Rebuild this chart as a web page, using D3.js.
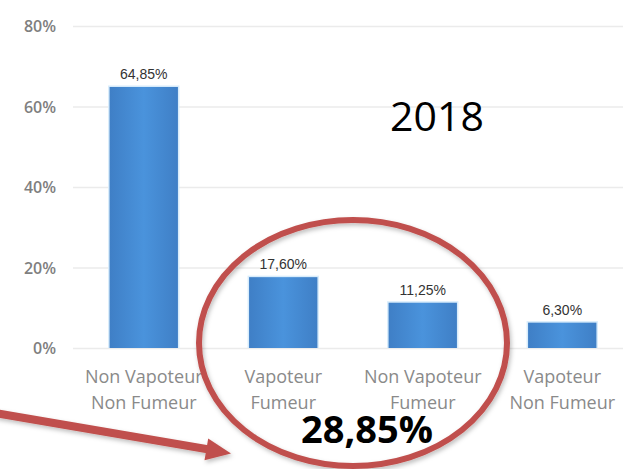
<!DOCTYPE html>
<html>
<head>
<meta charset="utf-8">
<script src="https://cdn.jsdelivr.net/npm/d3@7"></script>
<style>
    body { margin: 0; background: #ffffff; }
    svg { display: block; }
    .grid line { stroke: #ebebeb; stroke-width: 1.3; }
    .grid .domain { display: none; }
    .axis text { fill: #7f7f7f; font-family: "Open Sans", sans-serif; font-size: 16px; font-weight: 600; }
    .axis .domain, .axis line { display: none; }
    .valueLabel { fill: #333333; font-family: "Liberation Sans", Arial, sans-serif; font-size: 14px; text-anchor: middle; }
    .catLabel { fill: #8a8a8a; font-family: "Open Sans", sans-serif; font-size: 18px; text-anchor: middle; }
</style>
</head>
<body>
<script>
//wrap everything in an immediately invoked function
(function () {

    //chart data
    var categories = ["Non Vapoteur Non Fumeur", "Vapoteur Fumeur", "Non Vapoteur Fumeur", "Vapoteur Non Fumeur"];
    var labelLines = [["Non Vapoteur", "Non Fumeur"], ["Vapoteur", "Fumeur"], ["Non Vapoteur", "Fumeur"], ["Vapoteur", "Non Fumeur"]];
    var values = [64.85, 17.60, 11.25, 6.30];
    var valueLabels = ["64,85%", "17,60%", "11,25%", "6,30%"];
    var yTicks = [0, 20, 40, 60, 80];
    var yearText = "2018";
    var totalText = "28,85%";

    //frame dimensions
    var width = 623,
        height = 469;

    var svg = d3.select("body")
        .append("svg")
        .attr("width", width)
        .attr("height", height);

    var defs = svg.append("defs");

    //bar gradient, darker at the edges
    var grad = defs.append("linearGradient")
        .attr("id", "barGrad")
        .attr("x1", "0%").attr("x2", "100%")
        .attr("y1", "0%").attr("y2", "0%");
    grad.append("stop").attr("offset", "0%").attr("stop-color", "#3f7fc6");
    grad.append("stop").attr("offset", "50%").attr("stop-color", "#4a93dc");
    grad.append("stop").attr("offset", "100%").attr("stop-color", "#3f7fc6");

    //soft shadow for the annotations
    var shadow = defs.append("filter").attr("id", "shadow")
        .attr("x", "-10%").attr("y", "-10%").attr("width", "130%").attr("height", "140%");
    shadow.append("feDropShadow")
        .attr("dx", 1.5).attr("dy", 2.5).attr("stdDeviation", 2)
        .attr("flood-color", "#000").attr("flood-opacity", 0.25);

    //scales
    var xScale = d3.scaleBand()
        .domain(categories)
        .range([74, 632])
        .paddingInner(0.51)
        .paddingOuter(0.255);

    var yScale = d3.scaleLinear()
        .domain([0, 80])
        .range([348, 26]);

    //gridlines
    svg.append("g")
        .attr("class", "grid")
        .attr("transform", "translate(73,0)")
        .call(d3.axisLeft(yScale).tickValues(yTicks).tickSize(-560).tickFormat(""));

    //y axis labels
    svg.append("g")
        .attr("class", "axis")
        .attr("transform", "translate(56,0)")
        .call(d3.axisLeft(yScale).tickValues(yTicks).tickSize(0).tickPadding(0)
            .tickFormat(function (d) { return d + "%"; }))
        .selectAll("text")
        .attr("dy", "0.36em");

    //bar glow
    svg.selectAll(".barGlow")
        .data(values)
        .enter()
        .append("rect")
        .attr("class", "barGlow")
        .attr("x", function (d, i) { return xScale(categories[i]) - 1.5; })
        .attr("y", function (d) { return yScale(d) - 1.5; })
        .attr("width", xScale.bandwidth() + 3)
        .attr("height", function (d) { return yScale(0) - yScale(d) + 1.5; })
        .style("fill", "#d8ecfb");

    //bars
    svg.selectAll(".bar")
        .data(values)
        .enter()
        .append("rect")
        .attr("class", "bar")
        .attr("x", function (d, i) { return xScale(categories[i]); })
        .attr("y", function (d) { return yScale(d); })
        .attr("width", xScale.bandwidth())
        .attr("height", function (d) { return yScale(0) - yScale(d); })
        .style("fill", "url(#barGrad)");

    //value labels
    svg.selectAll(".valueLabel")
        .data(values)
        .enter()
        .append("text")
        .attr("class", "valueLabel")
        .attr("x", function (d, i) { return xScale(categories[i]) + xScale.bandwidth() / 2; })
        .attr("y", function (d) { return yScale(d) - 8; })
        .text(function (d, i) { return valueLabels[i]; });

    //category labels, two lines each
    var cats = svg.selectAll(".catLabel")
        .data(labelLines)
        .enter()
        .append("text")
        .attr("class", "catLabel")
        .attr("x", function (d, i) { return xScale(categories[i]) + xScale.bandwidth() / 2; })
        .attr("y", yScale(0) + 35);
    cats.selectAll("tspan")
        .data(function (d) { return d; })
        .enter()
        .append("tspan")
        .attr("x", function () { return d3.select(this.parentNode).attr("x"); })
        .attr("dy", function (d, j) { return j === 0 ? 0 : 26; })
        .text(function (d) { return d; });

    //year text
    svg.append("text")
        .attr("x", 437)
        .attr("y", 131)
        .attr("text-anchor", "middle")
        .style("font-family", "'Open Sans', sans-serif")
        .style("font-size", "41px")
        .style("fill", "#000")
        .text(yearText);

    //ellipse around the two smoker bars
    var cx = (xScale(categories[1]) + xScale(categories[2]) + xScale.bandwidth()) / 2;
    svg.append("ellipse")
        .attr("cx", cx)
        .attr("cy", yScale(0) - 5)
        .attr("rx", 154)
        .attr("ry", 123)
        .style("fill", "none")
        .style("stroke", "#c0504d")
        .style("stroke-width", 6)
        .attr("filter", "url(#shadow)");

    //total text
    svg.append("text")
        .attr("x", cx + 14)
        .attr("y", 443)
        .attr("text-anchor", "middle")
        .style("font-family", "'Open Sans', sans-serif")
        .style("font-size", "38px")
        .style("font-weight", "bold")
        .style("fill", "#000")
        .text(totalText);

    //arrow pointing to the ellipse
    var arrow = svg.append("g").attr("filter", "url(#shadow)");
    arrow.append("line")
        .attr("x1", -5).attr("y1", 413)
        .attr("x2", 212).attr("y2", 450)
        .style("stroke", "#c0504d")
        .style("stroke-width", 8);
    var ang = Math.atan2(450 - 413, 212 + 5),
        tipX = 231, tipY = 453.5,
        len = 25, half = 11;
    var bx = tipX - len * Math.cos(ang), by = tipY - len * Math.sin(ang);
    arrow.append("polygon")
        .attr("points", [
            [tipX, tipY],
            [bx - half * Math.sin(ang), by + half * Math.cos(ang)],
            [bx + half * Math.sin(ang), by - half * Math.cos(ang)]
        ].map(function (p) { return p.join(","); }).join(" "))
        .style("fill", "#c0504d");

})();
</script>
</body>
</html>
